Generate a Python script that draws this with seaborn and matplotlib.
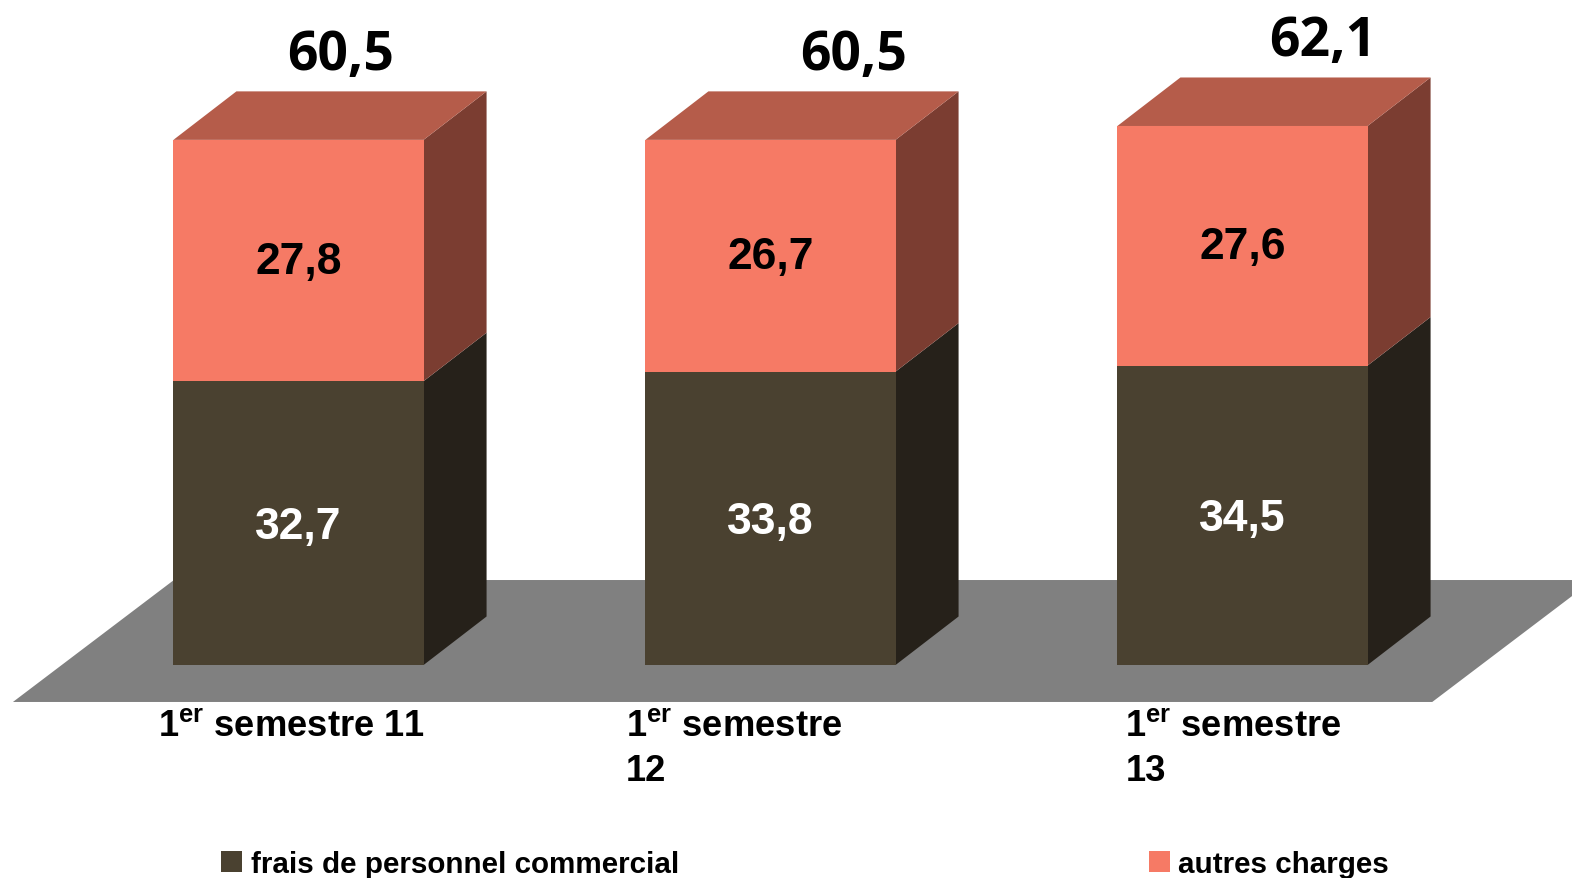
import seaborn as sns
import matplotlib.pyplot as plt
import pandas as pd
from matplotlib.patches import Polygon, Rectangle

# Datos
semestres = ['S1 11', 'S1 12', 'S1 13']
etiquettes = ['1$^{\\mathrm{er}}$ semestre 11', '1$^{\\mathrm{er}}$ semestre\n12', '1$^{\\mathrm{er}}$ semestre\n13']
frais = [32.7, 33.8, 34.5]
autres = [27.8, 26.7, 27.6]
totaux = [60.5, 60.5, 62.1]

sns.set_theme(style='white')
plt.rcParams['font.family'] = 'Liberation Sans'
plt.rcParams['mathtext.fontset'] = 'custom'
plt.rcParams['mathtext.rm'] = 'Liberation Sans:bold'

COL_FRAIS = '#4a4130'
COL_AUTRES = '#f67a65'
# profondeur de l'effet 3D (unites des axes)
DX, DY = 63 / 472, 48.5 / 8.68


def virgule(v):
    return f'{v:.1f}'.replace('.', ',')


df = pd.DataFrame({'Semestre': semestres, 'Frais': frais, 'Autres': autres})

fig = plt.figure(figsize=(15.72, 8.79), dpi=100)
ax = fig.add_axes([0, 0, 1, 1])

# Sol gris
ax.add_patch(Polygon([(-0.605, -4.26), (2.402, -4.26), (2.743, 9.79), (-0.264, 9.79)],
                     closed=True, color='#808080', lw=0, zorder=0))

sns.barplot(data=df, x='Semestre', y='Frais', color=COL_FRAIS, width=0.53, saturation=1,
            label='frais de personnel commercial', linewidth=0, ax=ax, zorder=3)
sns.barplot(data=df, x='Semestre', y='Autres', bottom=df['Frais'], color=COL_AUTRES, width=0.53,
            saturation=1, label='autres charges', linewidth=0, ax=ax, zorder=3)

# Faces laterales et dessus, a partir des barres
for p in [b for b in ax.patches if isinstance(b, Rectangle)]:
    x0, y0, w, h = p.get_x(), p.get_y(), p.get_width(), p.get_height()
    x1, y1 = x0 + w, y0 + h
    rouge = y0 > 0
    ax.add_patch(Polygon([(x1, y0), (x1 + DX, y0 + DY), (x1 + DX, y1 + DY), (x1, y1)],
                         closed=True, color='#7b3d31' if rouge else '#26211a', lw=0, zorder=2))
    if rouge:
        ax.add_patch(Polygon([(x0, y1), (x0 + DX, y1 + DY), (x1 + DX, y1 + DY), (x1, y1)],
                             closed=True, color='#b55c4a', lw=0, zorder=2))

# Valeurs dans les barres
for i in range(3):
    ax.text(i, frais[i] / 2 - 0.35, virgule(frais[i]), color='white', fontsize=32, fontweight='bold',
            ha='center', va='center', zorder=5)
    ax.text(i, frais[i] + autres[i] / 2 - 0.1, virgule(autres[i]), color='black', fontsize=32,
            fontweight='bold', ha='center', va='center', zorder=5)

# Totaux au-dessus
decal_total = [0.0886, 0.1757, 0.1691]
for i in range(3):
    ax.text(i + decal_total[i], totaux[i] + DY + 4.2, virgule(totaux[i]), color='black', fontsize=38.5,
            fontweight='bold', family='Open Sans', ha='center', va='center', zorder=5)

# Etiquettes de categories
decal_cat = [-0.297, -0.307, -0.248]
for i in range(3):
    ax.text(i + decal_cat[i], -5.0, etiquettes[i], color='black', fontsize=26.2, fontweight='bold',
            ha='left', va='top', linespacing=1.36, multialignment='left', zorder=5)

ax.legend(loc='center left', bbox_to_anchor=(221 / 1572, 1 - 865 / 879), ncol=2, frameon=False,
          prop={'family': 'Liberation Sans', 'weight': 'bold', 'size': 21.3}, labelcolor='black',
          handlelength=0.72, handleheight=0.72, handletextpad=0.28, columnspacing=15.88,
          borderpad=0, borderaxespad=0)

ax.set_xlim(-0.6324, 2.6981)
ax.set_ylim(-24.54, 76.73)
ax.axis('off')

fig.savefig('out.png', dpi=100)
